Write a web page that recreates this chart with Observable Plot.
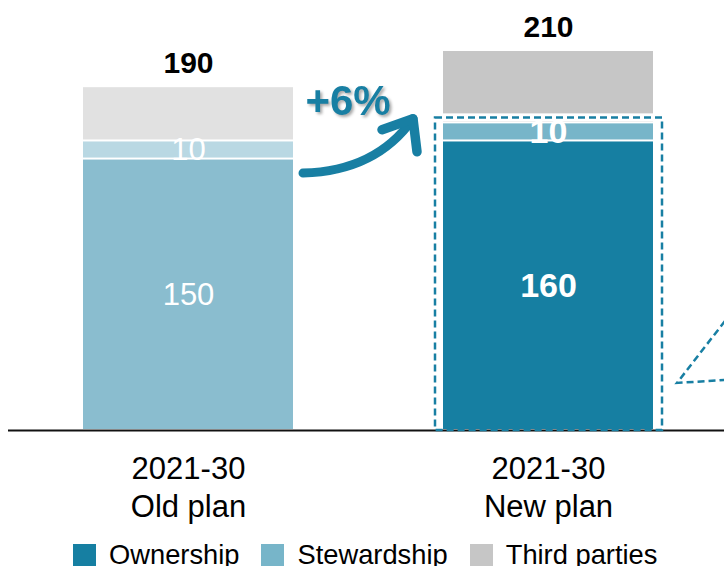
<!DOCTYPE html>
<html><head><meta charset="utf-8">
<script src="https://cdn.jsdelivr.net/npm/d3@7"></script>
<script src="https://cdn.jsdelivr.net/npm/@observablehq/plot@0.6"></script>
<style>
html,body{margin:0;padding:0;background:#fff;font-family:"Liberation Sans",Arial,sans-serif;}
#legend{display:flex;align-items:center;margin-left:73px;margin-top:14px;height:22px;font-size:27.3px;color:#000;line-height:22px;}
.item{display:flex;align-items:center;margin-right:22px;white-space:nowrap;}
.sw{width:23px;height:22px;margin-right:13px;flex:none;}
</style></head><body><div id="chart"></div><div id="legend"></div>
<script>
// ---- data ----
const plans = ["Old plan", "New plan"];
const periodLabel = "2021-30";
const seriesNames = ["Ownership", "Stewardship", "Third parties"];
const ownership = [150, 160];
const stewardship = [10, 10];
const thirdParties = [30, 40];
const totals = [190, 210];
const growthLabel = "+6%";

// ---- styles ----
const palette = {
  "Old plan": {"Ownership": "#8abdcf", "Stewardship": "#b9d8e3", "Third parties": "#e1e1e1"},
  "New plan": {"Ownership": "#167fa2", "Stewardship": "#77b5c9", "Third parties": "#c6c6c6"}
};
const accent = "#187fa3";
const font = '"Liberation Sans", Arial, sans-serif';

// ---- derived tables ----
const rows = [];
plans.forEach((plan, i) => {
  const vals = [ownership[i], stewardship[i], thirdParties[i]];
  let acc = 0;
  seriesNames.forEach((s, j) => {
    rows.push({plan, series: s, value: vals[j], y1: acc, y2: acc + vals[j]});
    acc += vals[j];
  });
});
const totalRows = plans.map((plan, i) => ({plan, total: totals[i]}));
const frameRows = [{plan: plans[1], y1: 0, y2: ownership[1] + stewardship[1]}];
const labelRows = rows.filter(d => d.series !== "Third parties").map(d => ({...d, mid: (d.y1 + d.y2) / 2}));
const axisRows = plans.map(p => ({plan: p, base: 0}));

const barOpts = {x: "plan", y1: "y1", y2: "y2", fill: d => palette[d.plan][d.series], insetTop: 1, insetBottom: 1};
const frameOpts = {x: "plan", y1: "y1", y2: "y2", fill: "none", insetLeft: -8, insetRight: -9, insetTop: -5, insetBottom: 0};

const chart = Plot.plot({
  width: 724, height: 530,
  marginLeft: 8, marginRight: 0, marginTop: 0, marginBottom: 0,
  style: {fontFamily: font, background: "white", overflow: "visible"},
  x: {domain: plans, range: [82, 653], paddingInner: 0.418, paddingOuter: 0, axis: null},
  y: {domain: [0, 210], range: [430, 50], axis: null},
  color: {type: "identity"},
  marks: [
    Plot.barY(rows.filter(d => d.series === "Third parties"), barOpts),
    Plot.barY(frameRows, {...frameOpts, stroke: "white", strokeWidth: 8}),
    Plot.barY(rows.filter(d => d.series !== "Third parties"), barOpts),
    Plot.ruleY([0], {stroke: "#111", strokeWidth: 2}),
    Plot.barY(frameRows, {...frameOpts, stroke: accent, strokeWidth: 2.5, strokeDasharray: "7,4"}),
    Plot.text(totalRows, {x: "plan", y: "total", text: d => String(d.total), dy: -23, fontSize: 30, fontWeight: "bold", fill: "black"}),
    Plot.text(labelRows.filter(d => d.plan === plans[0]), {x: "plan", y: "mid", text: d => String(d.value), fontSize: 31, fill: "white"}),
    Plot.text(labelRows.filter(d => d.plan === plans[1]), {x: "plan", y: "mid", text: d => String(d.value), fontSize: 34, fontWeight: "bold", fill: "white"}),
    Plot.text(axisRows, {x: "plan", y: "base", text: d => periodLabel + "\n" + d.plan, lineAnchor: "top", dy: 21, fontSize: 31, lineHeight: 1.24, fill: "black"})
  ]
});
document.getElementById("chart").appendChild(chart);

// ---- annotations placed through the chart's scales ----
const xs = chart.scale("x"), ys = chart.scale("y");
const bw = xs.bandwidth;
const oldRight = xs.apply(plans[0]) + bw;
const newLeft = xs.apply(plans[1]);
const newRight = newLeft + bw;
const yOf = v => ys.apply(v);
const svg = d3.select(chart);
const g = svg.append("g");

const sx = oldRight + 10, sy = yOf(142);
const cx = oldRight + 83, cy = yOf(143);
const tx = newLeft - 30, ty = yOf(172);
g.append("path")
  .attr("d", `M${sx},${sy} Q${cx},${cy} ${tx},${ty}`)
  .attr("fill", "none").attr("stroke", accent).attr("stroke-width", 9)
  .attr("stroke-linecap", "round");
g.append("path")
  .attr("d", `M${tx - 31},${ty + 11} L${tx},${ty} L${tx + 4},${ty + 33}`)
  .attr("fill", "none").attr("stroke", accent).attr("stroke-width", 9.5)
  .attr("stroke-linecap", "round").attr("stroke-linejoin", "round");
g.append("text")
  .attr("x", oldRight + 55).attr("y", yOf(totals[0]) + 29)
  .attr("text-anchor", "middle")
  .attr("font-family", font).attr("font-weight", "bold").attr("font-size", 42)
  .attr("fill", accent)
  .style("filter", "drop-shadow(2px 2px 1.5px rgba(0,0,0,0.35))")
  .text(growthLabel);

// fragment of a dashed callout at the right edge
const ax = newRight + 24, ay = yOf(26);
g.append("path")
  .attr("d", `M${ax + 48},${ay - 62} L${ax},${ay} L${ax + 48},${ay - 3}`)
  .attr("fill", "none").attr("stroke", accent).attr("stroke-width", 2.5)
  .attr("stroke-dasharray", "7,4");

// ---- legend ----
const legend = d3.select("#legend");
seriesNames.forEach(s => {
  const it = legend.append("div").attr("class", "item");
  it.append("div").attr("class", "sw").style("background", palette[plans[1]][s]);
  it.append("span").text(s);
});
</script>
</body></html>
